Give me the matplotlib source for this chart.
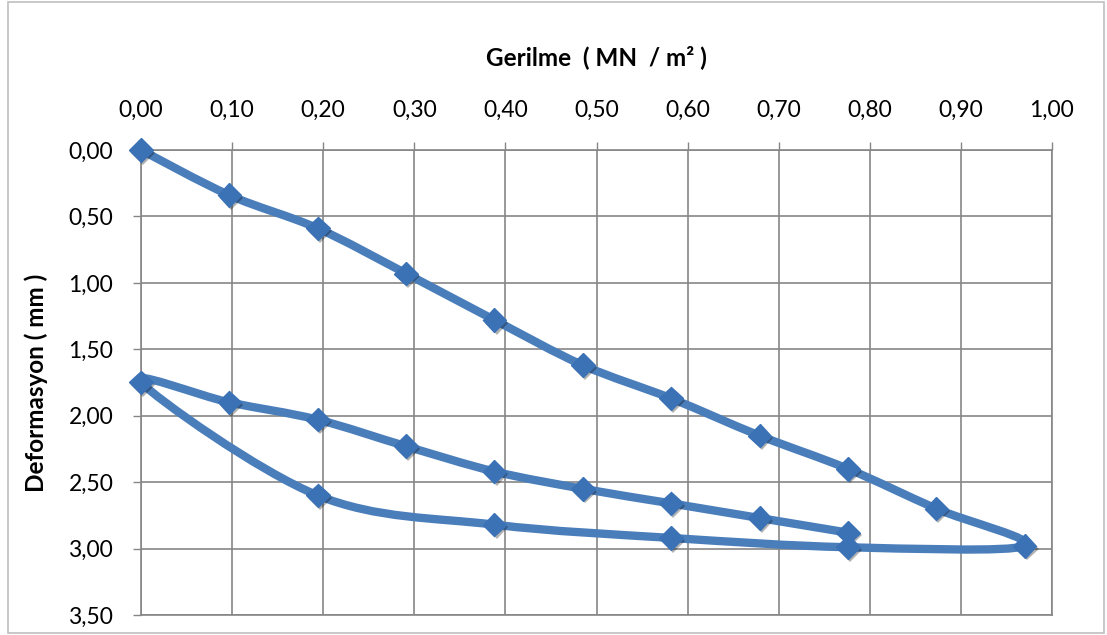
import numpy as np
import matplotlib
matplotlib.use("Agg")
import matplotlib.pyplot as plt
from matplotlib.path import Path
from matplotlib.patches import PathPatch, Rectangle
from matplotlib.ticker import FuncFormatter, MultipleLocator
import matplotlib.patheffects as pe

plt.rcParams["font.family"] = ["Lato", "DejaVu Sans"]

# gerilme (MN/m2) ve deformasyon (mm) - yukleme, bosaltma, tekrar yukleme
gerilme_yukleme = [0.000, 0.097, 0.194, 0.291, 0.388, 0.485, 0.582, 0.679, 0.776, 0.873, 0.970]
deform_yukleme = [0.00, 0.34, 0.59, 0.93, 1.28, 1.62, 1.87, 2.15, 2.40, 2.70, 2.98]

gerilme_bosaltma = [0.776, 0.582, 0.388, 0.194, 0.000]
deform_bosaltma = [2.99, 2.92, 2.82, 2.60, 1.75]

gerilme_tekrar = [0.097, 0.194, 0.291, 0.388, 0.485, 0.582, 0.679, 0.776]
deform_tekrar = [1.90, 2.03, 2.23, 2.42, 2.55, 2.66, 2.77, 2.88]

x = np.array(gerilme_yukleme + gerilme_bosaltma + gerilme_tekrar)
y = np.array(deform_yukleme + deform_bosaltma + deform_tekrar)

LINE = "#4a7ebb"
MARK = "#3b72b6"
GRID = "#868686"


def smooth_path(px, py):
    # excel-like smoothed line: cubic bezier segments (catmull-rom tangents)
    pts = np.column_stack([px, py])
    n = len(pts)
    verts = [pts[0]]
    codes = [Path.MOVETO]
    for i in range(n - 1):
        p0 = pts[i - 1] if i > 0 else pts[i]
        p1 = pts[i]
        p2 = pts[i + 1]
        p3 = pts[i + 2] if i + 2 < n else pts[i + 1]
        c1 = p1 + (p2 - p0) / 6.0
        c2 = p2 - (p3 - p1) / 6.0
        verts += [c1, c2, p2]
        codes += [Path.CURVE4] * 3
    return Path(verts, codes)


fig = plt.figure(figsize=(11.07, 6.35), dpi=100)
ax = fig.add_axes([0.1274, 0.0315, 0.9503 - 0.1274, 0.7323])

ax.set_xlim(0, 1.0)
ax.set_ylim(3.5, 0)
ax.xaxis.set_major_locator(MultipleLocator(0.1))
ax.yaxis.set_major_locator(MultipleLocator(0.5))
fmt = FuncFormatter(lambda v, p: f"{v:.2f}".replace(".", ","))
ax.xaxis.set_major_formatter(fmt)
ax.yaxis.set_major_formatter(fmt)
ax.xaxis.tick_top()
ax.xaxis.set_label_position("top")
ax.tick_params(axis="both", direction="out", length=6, width=1, color=GRID,
               labelsize=16.5, labelcolor="black")
ax.tick_params(axis="x", pad=15)
ax.tick_params(axis="y", pad=14)
ax.grid(True, color=GRID, linewidth=1.2)
for s in ax.spines.values():
    s.set_color(GRID)
    s.set_linewidth(1.2)

ax.set_xlabel("Gerilme  ( MN  / m² )", fontsize=17.5, fontweight="bold", labelpad=25)
ax.set_ylabel("Deformasyon ( mm )", fontsize=17.5, fontweight="bold", labelpad=15)

patch = PathPatch(smooth_path(x, y), facecolor="none", edgecolor=LINE,
                  linewidth=6, capstyle="round", joinstyle="round", zorder=3,
                  clip_on=False)
ax.add_patch(patch)

ax.plot(x, y, linestyle="none", marker="D", markersize=12, color=MARK,
        markeredgecolor=MARK, zorder=4, clip_on=False,
        path_effects=[pe.SimplePatchShadow(offset=(1.5, -2), shadow_rgbFace="black", alpha=0.3),
                      pe.Normal()])

fig.patches.append(Rectangle((8 / 1107, 2 / 635), 1096 / 1107, 631 / 635,
                             transform=fig.transFigure, fill=False,
                             edgecolor="#bfbfbf", linewidth=1.2))

fig.savefig("out.png", dpi=100)
